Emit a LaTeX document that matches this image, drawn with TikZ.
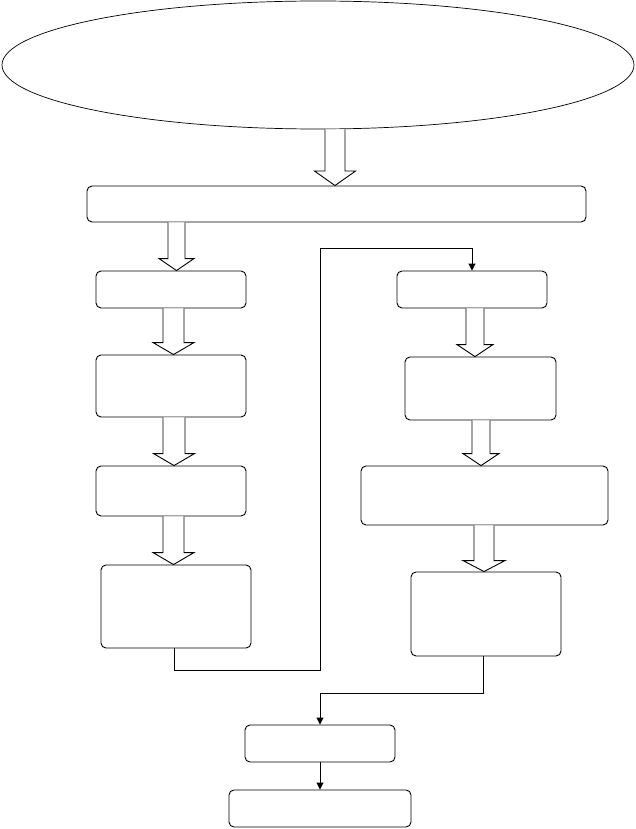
\documentclass[tikz,border=0pt]{standalone}
\usepackage{tikz}
\usetikzlibrary{positioning}
\usetikzlibrary{shapes.geometric}
\usetikzlibrary{arrows.meta}
\usetikzlibrary{calc}

% fat double-lined arrow between two boxes: from, to, x, shaft half, head half, head length
\newcommand{\fatarrow}[6]{%
\draw[fat] let \p1=(#1.south), \p2=(#2.north) in
 ({#3pt-#4pt},\y1)--({#3pt-#4pt},\y2+#6pt)--({#3pt-#5pt},\y2+#6pt)--({#3pt},\y2)
 --({#3pt+#5pt},\y2+#6pt)--({#3pt+#4pt},\y2+#6pt)--({#3pt+#4pt},\y1);}

\begin{document}
\begin{tikzpicture}[x=1pt, y=-1pt,
 box/.style={draw=black, line width=0.9pt, rounded corners=5pt, inner sep=0pt},
 fat/.style={draw=black, line width=0.9pt, fill=white},
 flow/.style={draw=black, line width=0.9pt, -{Triangle[width=7pt,length=7pt]}}]

\useasboundingbox (0,0) rectangle (635,829);

\node[ellipse, draw=black, line width=0.7pt, inner sep=0pt, minimum width=632pt, minimum height=128pt] (top) at (318,65) {};

\node[box, minimum width=499pt, minimum height=36pt] (wide) at (336.5,204) {};

% left column
\node[box, minimum width=150pt, minimum height=37pt] (la) at (171,289.5) {};
\node[box, minimum width=150pt, minimum height=62pt] (lb) at (171,386) {};
\node[box, minimum width=150pt, minimum height=50pt] (lc) at (171,491) {};
\node[box, minimum width=150pt, minimum height=83pt] (ld) at (176,606.5) {};

% right column
\node[box, minimum width=150pt, minimum height=37pt] (ra) at (472,289.5) {};
\node[box, minimum width=151pt, minimum height=63pt] (rb) at (480.5,388.5) {};
\node[box, minimum width=247pt, minimum height=59pt] (rc) at (484.5,495.5) {};
\node[box, minimum width=150pt, minimum height=84pt] (rd) at (486,614) {};

% bottom
\node[box, minimum width=150pt, minimum height=37pt] (merge) at (320,743.5) {};
\node[box, minimum width=182pt, minimum height=37pt] (final) at (320,808.5) {};

\fatarrow{top}{wide}{335}{10}{20.5}{14.5}
\fatarrow{wide}{la}{176.5}{8.5}{17.5}{12}
\fatarrow{la}{lb}{173.5}{10.5}{20.5}{12}
\fatarrow{lb}{lc}{174}{11}{20.5}{12}
\fatarrow{lc}{ld}{173.5}{10.5}{20.5}{12}
\fatarrow{ra}{rb}{475}{9}{18}{12}
\fatarrow{rb}{rc}{481}{9}{18}{12}
\fatarrow{rc}{rd}{484}{10}{21}{11}

\coordinate (loopa) at (320,670);
\coordinate (loopb) at (320,248);

\draw[flow] ([xshift=-2pt]ld.south) |- (loopa) -- (loopb) -| (ra.north);
\draw[flow] ([xshift=-3pt]rd.south) -- ++(0,37) -| (merge.north);
\draw[flow] (merge.south) -- (final.north);

\end{tikzpicture}
\end{document}
